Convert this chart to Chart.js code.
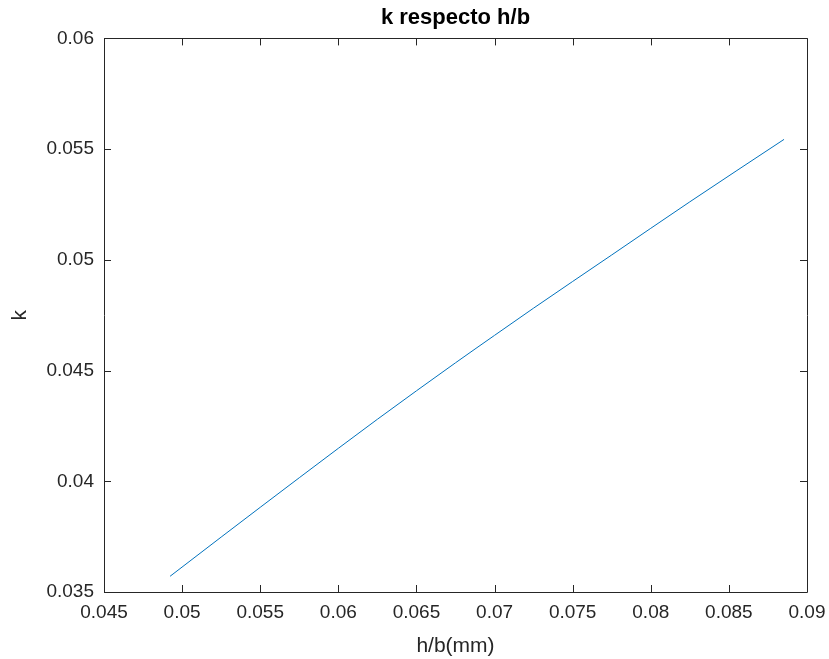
<!DOCTYPE html>
<html>
<head>
<meta charset="utf-8">
<script src="https://cdn.jsdelivr.net/npm/chart.js@4/dist/chart.umd.min.js"></script>
<style>
html,body{margin:0;padding:0;background:#fff;}
#wrap{width:829px;height:659px;}
</style>
</head>
<body>
<div id="wrap"><canvas id="c" width="829" height="659"></canvas></div>
<script>
const hbValues = [0.04923, 0.0525, 0.0575, 0.0625, 0.0675, 0.07, 0.0725, 0.0775, 0.0825, 0.08853];
const kValues  = [0.03571, 0.03748, 0.04016, 0.04280, 0.04535, 0.04659, 0.04782, 0.05022, 0.05262, 0.05544];
const xTickValues = [0.045, 0.05, 0.055, 0.06, 0.065, 0.07, 0.075, 0.08, 0.085, 0.09];
const xTickLabels = ['0.045','0.05','0.055','0.06','0.065','0.07','0.075','0.08','0.085','0.09'];
const yTickValues = [0.035, 0.04, 0.045, 0.05, 0.055, 0.06];
const yTickLabels = ['0.035','0.04','0.045','0.05','0.055','0.06'];
const titleText = 'k respecto h/b';
const xTitle = 'h/b(mm)';
const yTitle = 'k';

const AX = '#262626';
const FONT = "'Liberation Sans', Arial, Helvetica, sans-serif";

const points = hbValues.map((v, i) => ({x: v, y: kValues[i]}));

const framePlugin = {
  id: 'frame',
  afterDraw(chart) {
    const {ctx, chartArea: a, scales} = chart;
    const L = 7;
    ctx.save();
    ctx.strokeStyle = AX;
    ctx.lineWidth = 1;
    ctx.beginPath();
    ctx.rect(Math.round(a.left) + 0.5, Math.round(a.top) + 0.5, Math.round(a.right - a.left), Math.round(a.bottom - a.top));
    scales.x.ticks.forEach(t => {
      const px = Math.round(scales.x.getPixelForValue(t.value)) + 0.5;
      ctx.moveTo(px, a.bottom); ctx.lineTo(px, a.bottom - L);
      ctx.moveTo(px, a.top); ctx.lineTo(px, a.top + L);
    });
    scales.y.ticks.forEach(t => {
      const py = Math.round(scales.y.getPixelForValue(t.value)) + 0.5;
      ctx.moveTo(a.left, py); ctx.lineTo(a.left + L, py);
      ctx.moveTo(a.right, py); ctx.lineTo(a.right - L, py);
    });
    ctx.stroke();
    ctx.restore();
  }
};

new Chart(document.getElementById('c'), {
  type: 'line',
  data: {
    datasets: [{
      data: points,
      borderColor: '#0072BD',
      borderWidth: 1,
      pointRadius: 0,
      fill: false,
      cubicInterpolationMode: 'monotone'
    }]
  },
  options: {
    responsive: false,
    animation: false,
    events: [],
    layout: {padding: {left: 0, right: 22, top: 0, bottom: 0}},
    plugins: {
      legend: {display: false},
      tooltip: {enabled: false},
      title: {
        display: true,
        text: titleText,
        fullSize: false,
        color: '#000',
        font: {family: FONT, size: 22, weight: 'bold'},
        padding: {top: 5, bottom: 7}
      }
    },
    scales: {
      x: {
        type: 'linear',
        min: 0.045, max: 0.09,
        afterBuildTicks(s) { s.ticks = xTickValues.map(v => ({value: v})); },
        afterFit(s) { s.height = 67; s.paddingLeft = 0; s.paddingRight = 0; },
        grid: {display: false, drawTicks: false},
        border: {display: false},
        ticks: {
          color: AX,
          font: {family: FONT, size: 19},
          padding: 9,
          maxRotation: 0,
          autoSkip: false,
          callback: (v) => { const i = xTickValues.findIndex(t => Math.abs(t - v) < 1e-9); return i >= 0 ? xTickLabels[i] : ''; }
        },
        title: {
          display: true,
          text: xTitle,
          color: AX,
          font: {family: FONT, size: 21},
          padding: {top: 0, bottom: 0}
        }
      },
      y: {
        type: 'linear',
        min: 0.035, max: 0.06,
        afterBuildTicks(s) { s.ticks = yTickValues.map(v => ({value: v})); },
        afterFit(s) { s.width = 104; s.paddingTop = 0; s.paddingBottom = 0; },
        grid: {display: false, drawTicks: false},
        border: {display: false},
        ticks: {
          color: AX,
          font: {family: FONT, size: 19},
          padding: 10,
          autoSkip: false,
          callback: (v) => { const i = yTickValues.findIndex(t => Math.abs(t - v) < 1e-9); return i >= 0 ? yTickLabels[i] : ''; }
        },
        title: {
          display: true,
          text: yTitle,
          color: AX,
          font: {family: FONT, size: 21},
          padding: {top: 8, bottom: 0}
        }
      }
    }
  },
  plugins: [framePlugin]
});
</script>
</body>
</html>
